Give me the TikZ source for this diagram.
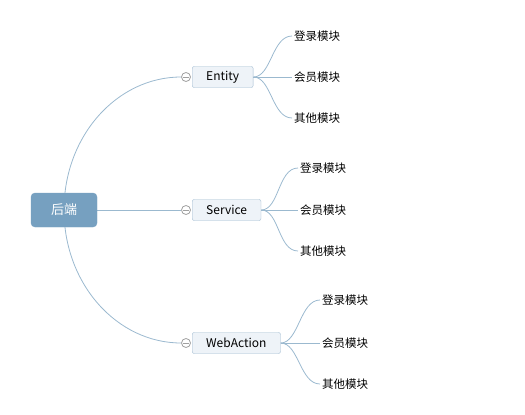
\documentclass[tikz,border=0pt]{standalone}
\usepackage{fontspec}
\setmainfont{Noto Sans CJK SC}
\usepackage{xcolor}
\definecolor{colorRoot}{HTML}{76A0C0}
\definecolor{colorLine}{HTML}{9BB9CF}
\definecolor{colorTopicFill}{HTML}{EEF3F8}
\definecolor{colorTopicDraw}{HTML}{9FBAD0}
\definecolor{colorFold}{HTML}{A0A0A0}
\usetikzlibrary{positioning, backgrounds}
\tikzset{rootbox/.style={draw=colorRoot, fill=colorRoot, rounded corners=4pt, text=white, minimum width=66pt, minimum height=34pt, font=\fontsize{13}{15}\selectfont},
  topicbox/.style={draw=colorTopicDraw, fill=colorTopicFill, rounded corners=2pt, inner xsep=14pt, minimum height=21pt, anchor=west, font=\fontsize{12}{14}\selectfont},
  leafbox/.style={inner sep=2pt, anchor=west, font=\fontsize{11.5}{14}\selectfont},
  foldmark/.style={circle, draw=colorFold, fill=white, inner sep=0pt, minimum size=9pt, line width=0.8pt},
  branch/.style={draw=colorLine, line width=0.8pt}}

\begin{document}
\begin{tikzpicture}[x=1pt, y=-1pt]
\useasboundingbox (0,0) rectangle (525,415);
\node[rootbox] (back) at (64,210) {后端};
\node[topicbox] (entity) at (192,77) {Entity};
\node[topicbox] (service) at (192,210) {Service};
\node[topicbox] (webaction) at (192,343) {WebAction};
\node[foldmark] (fe) at (186,77) {};
\node[foldmark] (fs) at (186,210) {};
\node[foldmark] (fw) at (186,343) {};
% second level
\node[leafbox] (e1) at (292,36) {登录模块};
\node[leafbox] (e2) at (292,77) {会员模块};
\node[leafbox] (e3) at (292,118) {其他模块};
\node[leafbox] (s1) at (298,168) {登录模块};
\node[leafbox] (s2) at (298,210) {会员模块};
\node[leafbox] (s3) at (298,251) {其他模块};
\node[leafbox] (w1) at (320,300) {登录模块};
\node[leafbox] (w2) at (320,343) {会员模块};
\node[leafbox] (w3) at (320,384) {其他模块};
% root to topics
\begin{scope}[on background layer]
\path[branch] (back.center) .. controls (64,136) and (117,77) .. (fe.west);
\path[branch] (back.center) .. controls (64,284) and (117,343) .. (fw.west);
\path[branch] (back.east) -- (fs.west);
\end{scope}
\draw[colorFold, line width=0.8pt] ([xshift=-3pt]fe.center) -- ([xshift=3pt]fe.center);
\draw[colorFold, line width=0.8pt] ([xshift=-3pt]fs.center) -- ([xshift=3pt]fs.center);
\draw[colorFold, line width=0.8pt] ([xshift=-3pt]fw.center) -- ([xshift=3pt]fw.center);
% topics to leaves
\path[branch] (entity.east) .. controls +(18,0) and +(-20,0) .. (e1.west);
\path[branch] (entity.east) -- (e2.west);
\path[branch] (entity.east) .. controls +(18,0) and +(-20,0) .. (e3.west);
\path[branch] (service.east) .. controls +(18,0) and +(-20,0) .. (s1.west);
\path[branch] (service.east) -- (s2.west);
\path[branch] (service.east) .. controls +(18,0) and +(-20,0) .. (s3.west);
\path[branch] (webaction.east) .. controls +(18,0) and +(-20,0) .. (w1.west);
\path[branch] (webaction.east) -- (w2.west);
\path[branch] (webaction.east) .. controls +(18,0) and +(-20,0) .. (w3.west);
\end{tikzpicture}
\end{document}
